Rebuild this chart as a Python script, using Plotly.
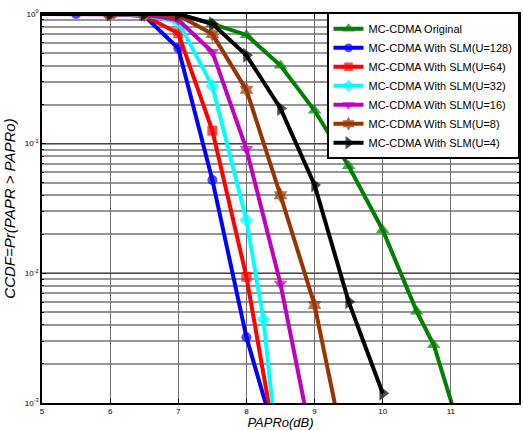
import plotly.graph_objects as go

# ---- data ----
names = ["MC-CDMA Original", "MC-CDMA With SLM(U=128)", "MC-CDMA With SLM(U=64)",
         "MC-CDMA With SLM(U=32)", "MC-CDMA With SLM(U=16)", "MC-CDMA With SLM(U=8)",
         "MC-CDMA With SLM(U=4)"]

x_orig = [5, 6, 6.5, 7, 7.5, 8, 8.5, 9, 9.5, 10, 10.5, 10.75, 11.25]
y_orig = [1, 1, 1, 1, 0.84, 0.69, 0.40, 0.18, 0.0673, 0.0216, 0.00507, 0.0028, 0.00039]

x_u128 = [5, 5.5, 6, 6.5, 7, 7.5, 8, 8.5]
y_u128 = [1, 1, 1, 0.97, 0.544, 0.0525, 0.00321, 0.0004]

x_u64 = [5, 6, 6.5, 7, 7.5, 8, 8.5]
y_u64 = [1, 1, 0.97, 0.71, 0.126, 0.0094, 0.0003]

x_u32 = [5, 6, 6.5, 7, 7.5, 8, 8.25, 8.5]
y_u32 = [1, 1, 0.98, 0.87, 0.279, 0.0258, 0.00443, 0.00025]

x_u16 = [5, 6, 6.5, 7, 7.5, 8, 8.5, 9]
y_u16 = [1, 1, 0.99, 0.9, 0.51, 0.091, 0.0083, 0.0004]

x_u8 = [5, 6, 6.5, 7, 7.5, 8, 8.5, 9, 9.5]
y_u8 = [1, 1, 1, 0.98, 0.70, 0.26, 0.040, 0.0057, 0.0003]

x_u4 = [5, 6, 6.5, 7, 7.5, 8, 8.5, 9, 9.5, 10]
y_u4 = [1, 1, 1, 1, 0.84, 0.48, 0.187, 0.048, 0.00605, 0.00119]

x_ticks = [5, 6, 7, 8, 9, 10, 11, 12]
y_tickvals = [1, 0.1, 0.01, 0.001]
y_ticktext = ["10<sup>0</sup>", "10<sup>-1</sup>", "10<sup>-2</sup>", "10<sup>-3</sup>"]

colors = ["rgb(0,128,0)", "rgb(0,0,255)", "rgb(255,0,0)", "rgb(0,255,255)",
          "rgb(191,0,191)", "rgb(153,51,0)", "rgb(0,0,0)"]
symbols = ["triangle-up", "circle", "square", "diamond", "triangle-down", "hexagram", "triangle-right"]
msizes = [12, 10, 10, 11, 12, 12, 13]

series = [(x_orig, y_orig), (x_u128, y_u128), (x_u64, y_u64), (x_u32, y_u32),
          (x_u16, y_u16), (x_u8, y_u8), (x_u4, y_u4)]

FONT = "Arial, Liberation Sans, sans-serif"

fig = go.Figure()
for (xs, ys), nm, c, s, ms in zip(series, names, colors, symbols, msizes):
    sizes = [0] + [ms] * (len(xs) - 1)  # no visible marker at the axis edge
    fig.add_trace(go.Scatter(
        x=xs, y=ys, name=nm, mode="lines+markers",
        line=dict(color=c, width=4),
        marker=dict(symbol=s, size=sizes, color=c, line=dict(width=0)),
    ))

fig.update_layout(
    width=523, height=430,
    margin=dict(l=42, r=2, t=14, b=27),
    paper_bgcolor="white", plot_bgcolor="white",
    font=dict(family=FONT, color="black"),
    showlegend=True,
    legend=dict(
        x=1.0, y=1.003, xanchor="right", yanchor="top",
        bgcolor="white", bordercolor="black", borderwidth=1.5,
        font=dict(family=FONT, size=11, color="black"),
        tracegroupgap=0, itemwidth=30,
    ),
)

fig.update_xaxes(
    range=[5, 12], tickvals=x_ticks, ticktext=[str(v) for v in x_ticks],
    showline=True, linecolor="black", linewidth=1.5, mirror="ticks",
    ticks="inside", ticklen=4, tickcolor="black",
    showgrid=True, gridcolor="rgb(110,110,110)", gridwidth=1,
    zeroline=False,
    tickfont=dict(family=FONT, size=8, color="black"),
    title=dict(text="<i>PAPRo(dB)</i>", font=dict(family=FONT, size=13, color="black"), standoff=2),
)

fig.update_yaxes(
    type="log", range=[-3, 0], tickvals=y_tickvals, ticktext=y_ticktext,
    showline=True, linecolor="black", linewidth=1.5, mirror="ticks",
    ticks="inside", ticklen=4, tickcolor="black",
    showgrid=True, gridcolor="rgb(70,70,70)", gridwidth=1,
    zeroline=False,
    minor=dict(dtick="D1", showgrid=True, gridcolor="rgb(150,150,150)", gridwidth=1.5,
               ticks="inside", ticklen=2, tickcolor="black"),
    tickfont=dict(family=FONT, size=8, color="black"),
    title=dict(text="<i>CCDF=Pr(PAPR &gt; PAPRo)</i>", font=dict(family=FONT, size=15, color="black"), standoff=6),
)

fig.write_html("out.html")
